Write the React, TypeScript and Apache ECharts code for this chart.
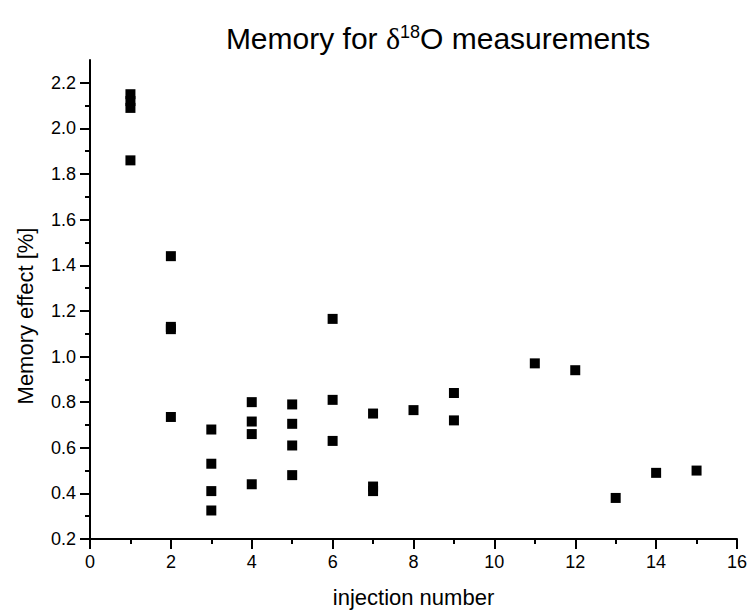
import React, { useEffect, useRef } from "react";
import * as echarts from "echarts";

// Data
const injectionNumber = [
  1, 1, 1, 1,
  2, 2, 2, 2,
  3, 3, 3, 3,
  4, 4, 4, 4,
  5, 5, 5, 5,
  6, 6, 6,
  7, 7, 7,
  8,
  9, 9,
  11,
  12,
  13,
  14,
  15,
];
const memoryEffect = [
  2.15, 2.12, 2.09, 1.86,
  1.44, 1.13, 1.12, 0.735,
  0.68, 0.53, 0.41, 0.325,
  0.8, 0.715, 0.66, 0.44,
  0.79, 0.705, 0.61, 0.48,
  1.165, 0.81, 0.63,
  0.75, 0.43, 0.41,
  0.765,
  0.84, 0.72,
  0.97,
  0.94,
  0.38,
  0.49,
  0.5,
];
const yMajorTicks = [0.2, 0.4, 0.6, 0.8, 1.0, 1.2, 1.4, 1.6, 1.8, 2.0, 2.2];
const yMinorTicks = [0.3, 0.5, 0.7, 0.9, 1.1, 1.3, 1.5, 1.7, 1.9, 2.1];
const titleMain = "Memory for ";
const titleDelta = "δ";
const titleSup = "18";
const titleRest = "O measurements";
const xName = "injection number";
const yName = "Memory effect [%]";

const FONT = "'Liberation Sans', Arial, sans-serif";

export default function App() {
  const ref = useRef<HTMLDivElement>(null);
  useEffect(() => {
    if (!ref.current) return;
    const chart = echarts.init(ref.current, undefined, { renderer: "svg" });
    const points = injectionNumber.map((x, i) => [x, memoryEffect[i]]);
    chart.setOption({
      animation: false,
      backgroundColor: "#ffffff",
      textStyle: { fontFamily: FONT },
      graphic: [
        {
          type: "text",
          x: 438,
          y: 38,
          style: {
            text: `{a|${titleMain}}{d|${titleDelta}}{s|${titleSup}}{a|${titleRest}}`,
            align: "center",
            verticalAlign: "middle",
            rich: {
              a: { fontSize: 30, fontFamily: FONT, fill: "#000" },
              d: { fontSize: 30, fontFamily: "'Liberation Serif', serif", fill: "#000" },
              s: { fontSize: 18, fontFamily: FONT, fill: "#000", verticalAlign: "top" },
            },
          },
        },
        {
          type: "text",
          x: 25,
          y: 316,
          rotation: Math.PI / 2,
          style: {
            text: yName,
            align: "center",
            verticalAlign: "middle",
            fontSize: 22,
            fontFamily: FONT,
            fill: "#000",
          },
        },
      ],
      grid: {
        left: 90,
        right: 13,
        top: 60,
        bottom: 71,
        outerBoundsMode: "none",
        containLabel: false,
      },
      xAxis: {
        type: "value",
        min: 0,
        max: 16,
        interval: 2,
        name: xName,
        nameLocation: "middle",
        nameGap: 47,
        nameTextStyle: { fontSize: 22, color: "#000", fontFamily: FONT },
        axisLine: { show: true, lineStyle: { color: "#000", width: 2 } },
        axisTick: { show: true, inside: false, length: 10, lineStyle: { color: "#000", width: 2 } },
        minorTick: { show: true, splitNumber: 2, length: 5, lineStyle: { color: "#000", width: 2 } },
        axisLabel: { fontSize: 18, color: "#000", margin: 14, fontFamily: FONT },
        splitLine: { show: false },
        minorSplitLine: { show: false },
      },
      yAxis: [
        {
          type: "value",
          min: 0.2,
          max: 2.3,
          interval: 0.2,
          position: "left",
          axisLine: { show: true, lineStyle: { color: "#000", width: 2 } },
          axisTick: {
            show: true,
            inside: false,
            length: 10,
            customValues: yMajorTicks,
            lineStyle: { color: "#000", width: 2 },
          },
          axisLabel: {
            fontSize: 18,
            color: "#000",
            margin: 14,
            fontFamily: FONT,
            customValues: yMajorTicks,
            formatter: (v: number) => v.toFixed(1),
          },
          splitLine: { show: false },
        },
        {
          type: "value",
          min: 0.2,
          max: 2.3,
          position: "left",
          offset: 0,
          axisLine: { show: false },
          axisTick: {
            show: true,
            inside: false,
            length: 5,
            customValues: yMinorTicks,
            lineStyle: { color: "#000", width: 2 },
          },
          axisLabel: { show: false },
          splitLine: { show: false },
        },
      ],
      series: [
        {
          type: "scatter",
          data: points,
          symbol: "rect",
          symbolSize: 10,
          itemStyle: { color: "#000", opacity: 1 },
          xAxisIndex: 0,
          yAxisIndex: 0,
        },
      ],
    });
    return () => chart.dispose();
  }, []);
  return (
    <div
      ref={ref}
      style={{ position: "fixed", left: 0, top: 0, width: 750, height: 610, background: "#fff" }}
    />
  );
}
